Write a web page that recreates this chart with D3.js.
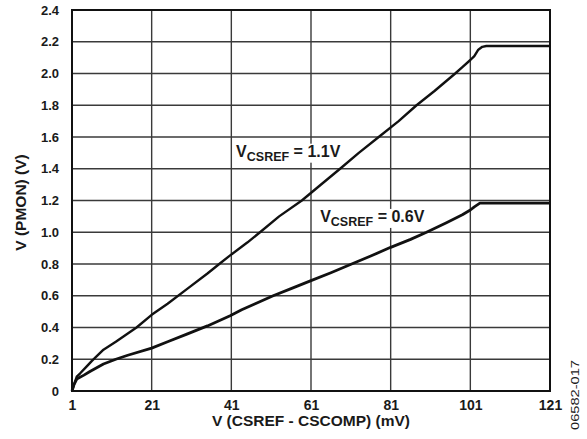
<!DOCTYPE html>
<html><head><meta charset="utf-8">
<script src="https://cdn.jsdelivr.net/npm/d3@7"></script>
<style>
html,body{margin:0;padding:0;background:#fff;}
text{font-family:"Liberation Sans",Arial,Helvetica,sans-serif;font-weight:bold;fill:#1a1a1a;}
</style></head>
<body><svg id="c" width="587" height="439"></svg>
<script>
// Data
const xTicks = [1, 21, 41, 61, 81, 101, 121];
const yTicks = [0, 0.2, 0.4, 0.6, 0.8, 1.0, 1.2, 1.4, 1.6, 1.8, 2.0, 2.2, 2.4];
const yTickLabels = ["0", "0.2", "0.4", "0.6", "0.8", "1.0", "1.2", "1.4", "1.6", "1.8", "2.0", "2.2", "2.4"];

const vHighX = [1, 1.5, 2.2, 3, 4.7, 6, 8.9, 12, 17.2, 21, 25, 30, 35, 38.2, 40.7, 45, 48.2, 53, 58.7, 63, 68.3, 73, 78, 83, 87.5, 92, 97.2, 99, 101, 102, 103, 104, 105, 121];
const vHighY = [0, 0.04, 0.09, 0.11, 0.155, 0.19, 0.26, 0.31, 0.40, 0.48, 0.55, 0.645, 0.74, 0.805, 0.854, 0.935, 1.0, 1.1, 1.2, 1.29, 1.4, 1.5, 1.6, 1.7, 1.8, 1.89, 2.0, 2.04, 2.085, 2.11, 2.15, 2.168, 2.173, 2.173];

const vLowX = [1, 1.5, 2.2, 4, 5.5, 8.9, 12, 15, 21, 25, 30, 35, 40.7, 43.6, 47, 51.5, 56, 61, 66, 71.2, 76, 81, 86, 90, 95, 99, 101, 102, 103.4, 121];
const vLowY = [0, 0.04, 0.075, 0.10, 0.123, 0.17, 0.20, 0.225, 0.27, 0.31, 0.36, 0.41, 0.474, 0.512, 0.55, 0.6, 0.645, 0.695, 0.745, 0.8, 0.85, 0.905, 0.955, 1.0, 1.06, 1.11, 1.14, 1.16, 1.183, 1.183];

const seriesLabels = [
  {sub: "CSREF", rest: " = 1.1V", x: 42.2, y: 1.476},
  {sub: "CSREF", rest: " = 0.6V", x: 63.3, y: 1.065}
];

const svg = d3.select("#c");
svg.append("rect").attr("width", 587).attr("height", 439).attr("fill", "#fff");

const L = 72, R = 550, T = 10, B = 391;
const x = d3.scaleLinear().domain([1, 121]).range([L, R]);
const y = d3.scaleLinear().domain([0, 2.4]).range([B, T]);

// grid
const g = svg.append("g");
g.selectAll(".gx").data(xTicks).join("line")
  .attr("x1", d => x(d)).attr("x2", d => x(d)).attr("y1", T).attr("y2", B)
  .attr("stroke", "#3a3a3a").attr("stroke-width", 1.4);
g.selectAll(".gy").data(yTicks).join("line")
  .attr("x1", L).attr("x2", R).attr("y1", d => y(d)).attr("y2", d => y(d))
  .attr("stroke", "#3a3a3a").attr("stroke-width", 1.4);

// series labels (with white knockout behind, like the reference)
const lg = svg.append("g");
seriesLabels.forEach(s => {
  const bg = lg.append("rect").attr("fill", "#fff");
  const t = lg.append("text").attr("x", x(s.x)).attr("y", y(s.y)).style("font-size", "16px");
  t.append("tspan").text("V");
  t.append("tspan").attr("dy", 4).style("font-size", "12.5px").text(s.sub);
  t.append("tspan").attr("dy", -4).text(s.rest);
  const b = t.node().getBBox();
  bg.attr("x", b.x - 2).attr("y", b.y + 1).attr("width", b.width + 4).attr("height", b.height - 2);
});

// curves
const line = d3.line().x(d => x(d[0])).y(d => y(d[1]));
svg.append("path").datum(d3.zip(vHighX, vHighY)).attr("d", line)
  .attr("fill", "none").attr("stroke", "#111").attr("stroke-width", 2.4).attr("stroke-linejoin", "round");
svg.append("path").datum(d3.zip(vLowX, vLowY)).attr("d", line)
  .attr("fill", "none").attr("stroke", "#111").attr("stroke-width", 2.8).attr("stroke-linejoin", "round");

// border
svg.append("rect").attr("x", L).attr("y", T).attr("width", R - L).attr("height", B - T)
  .attr("fill", "none").attr("stroke", "#111").attr("stroke-width", 2);

// axes (tick labels via d3 axis)
const xAxis = d3.axisBottom(x).tickValues(xTicks).tickSize(0).tickPadding(0).tickFormat(d3.format("d"));
const xg = svg.append("g").attr("transform", `translate(0,${B})`).call(xAxis);
xg.select(".domain").remove();
xg.selectAll("text").attr("dy", null).attr("y", 19).style("font-size", "14px")
  .style("font-family", '"Liberation Sans",Arial,sans-serif').style("font-weight", "bold").attr("fill", "#1a1a1a");

const yAxis = d3.axisLeft(y).tickValues(yTicks).tickSize(0).tickPadding(0)
  .tickFormat((d, i) => yTickLabels[i]);
const yg = svg.append("g").attr("transform", `translate(${L - 13},0)`).call(yAxis);
yg.select(".domain").remove();
yg.selectAll("text").style("font-size", "13px")
  .style("font-family", '"Liberation Sans",Arial,sans-serif').style("font-weight", "bold").attr("fill", "#1a1a1a");

// axis titles
svg.append("text").attr("x", (L + R) / 2).attr("y", 426).attr("text-anchor", "middle")
  .style("font-size", "15.5px").text("V (CSREF - CSCOMP) (mV)");
svg.append("text").attr("transform", `translate(26,${(T + B) / 2 + 2}) rotate(-90)`).attr("text-anchor", "middle")
  .style("font-size", "15.5px").text("V (PMON) (V)");

// figure id
svg.append("text").attr("transform", "translate(579,395) rotate(-90)").attr("text-anchor", "middle")
  .attr("textLength", 70).attr("lengthAdjust", "spacingAndGlyphs")
  .style("font-size", "10px").style("font-weight", "normal").text("06582-017");
</script></body></html>
